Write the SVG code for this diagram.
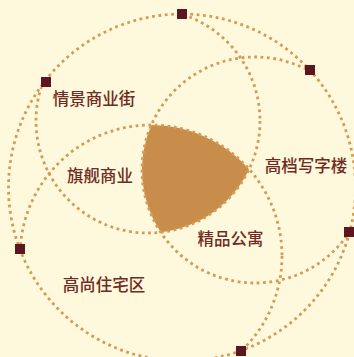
<svg xmlns="http://www.w3.org/2000/svg" width="354" height="357" viewBox="0 0 354 357">
  <style>
    .ring { fill: none; stroke: #D49B57; stroke-width: 2.8; stroke-dasharray: 2.8 3.6; }
    .sq { fill: #5E1520; }
    .lbl { font-family: "Noto Sans CJK SC", "Noto Sans", sans-serif; font-size: 16.5px; font-weight: 500; fill: #702A22; text-anchor: middle; }
  </style>
  <defs>
    <clipPath id="outerClip">
      <circle cx="182" cy="187.5" r="173.5"/>
    </clipPath>
  </defs>
  <rect x="0" y="0" width="354" height="357" fill="#FEF9DC"/>

  <g id="core">
    <path d="M151.35,125 A131,131 0 0 1 249.1,169.2 A112,112 0 0 1 160.7,232.3 A113,113 0 0 1 151.35,125 Z" fill="#C98D4B"/>
  </g>

  <g id="connectors">
    <circle id="outer-ring" class="ring" cx="182" cy="187.5" r="173.5"/>
    <g clip-path="url(#outerClip)">
      <circle id="ring-commercial" class="ring" cx="148" cy="121" r="112"/>
      <circle id="ring-office" class="ring" cx="255" cy="170" r="113"/>
      <circle id="ring-residential" class="ring" cx="151" cy="256" r="131"/>
    </g>
  </g>

  <g id="markers">
    <rect class="sq" x="177" y="9" width="10" height="10"/>
    <rect class="sq" x="41" y="77" width="10" height="10"/>
    <rect class="sq" x="305" y="65" width="10" height="10"/>
    <rect class="sq" x="344" y="227" width="10" height="10"/>
    <rect class="sq" x="236" y="346" width="10" height="10"/>
    <rect class="sq" x="15" y="244" width="10" height="10"/>
  </g>

  <g id="node-qingjing"><text class="lbl" x="94" y="104.5">情景商业街</text></g>
  <g id="node-qijian"><text class="lbl" x="100" y="181.5">旗舰商业</text></g>
  <g id="node-gaodang"><text class="lbl" x="306" y="171.5">高档写字楼</text></g>
  <g id="node-jingpin"><text class="lbl" x="230.5" y="244.5">精品公寓</text></g>
  <g id="node-gaoshang"><text class="lbl" x="104" y="290.5">高尚住宅区</text></g>
</svg>
